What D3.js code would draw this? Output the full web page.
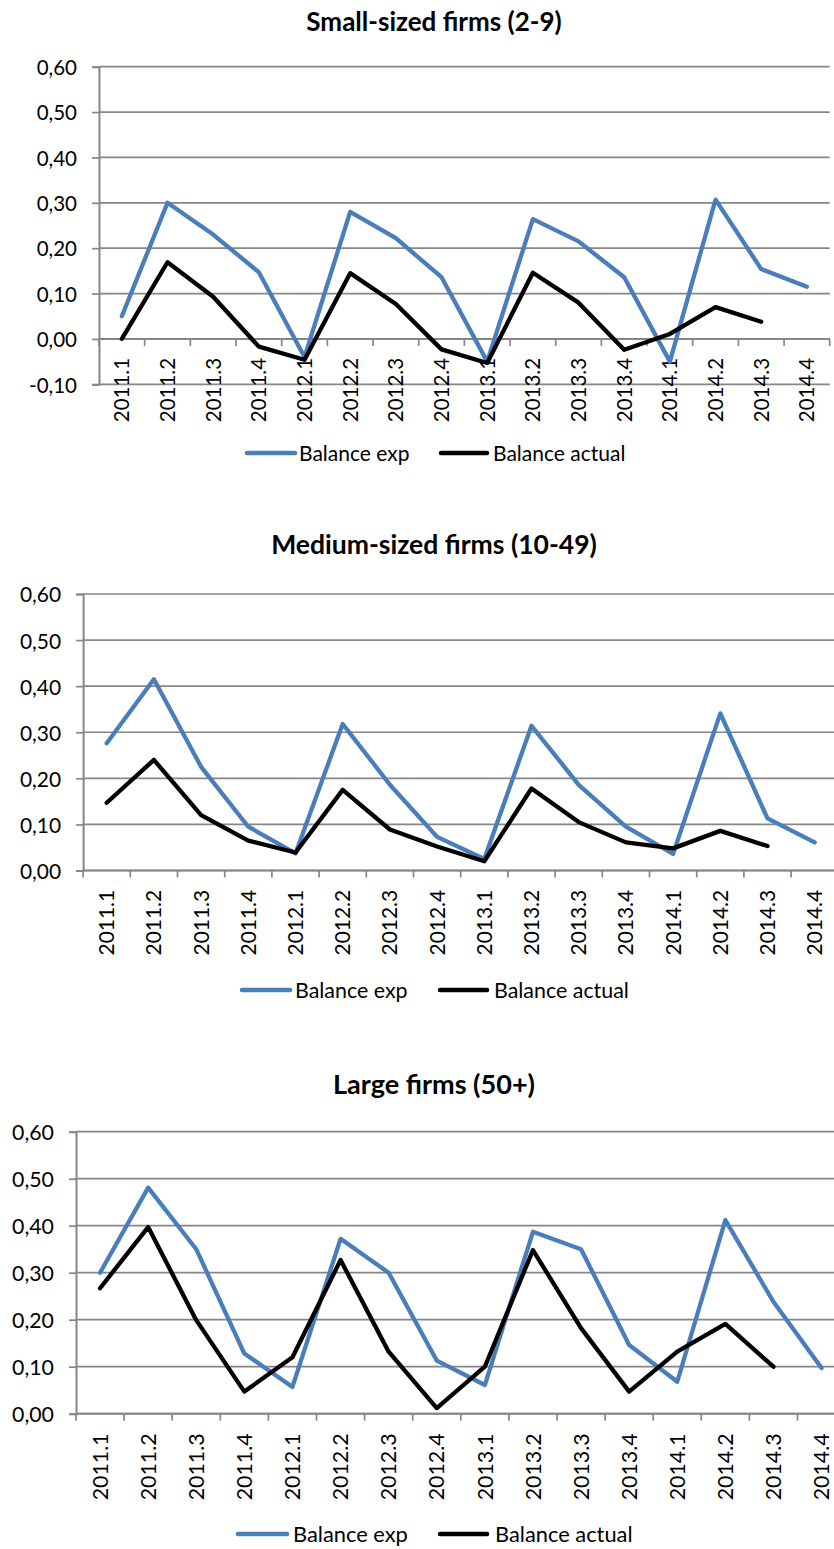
<!DOCTYPE html>
<html>
<head>
<meta charset="utf-8">
<script src="https://cdn.jsdelivr.net/npm/d3@7"></script>
<style>
  html, body { margin: 0; padding: 0; background: #fff; }
  svg { display: block; }
  text { font-family: Lato, "Open Sans", sans-serif; fill: #000; }
</style>
</head>
<body>
<svg id="page" width="834" height="1549"></svg>
<script>
// Survey quarters on the category axis
const quarters = ["2011.1","2011.2","2011.3","2011.4","2012.1","2012.2","2012.3","2012.4",
                  "2013.1","2013.2","2013.3","2013.4","2014.1","2014.2","2014.3","2014.4"];

// Small-sized firms (2-9)
const smallExp    = [0.050, 0.300, 0.230, 0.147, -0.040, 0.280, 0.222, 0.136, -0.050, 0.264, 0.215, 0.136, -0.050, 0.307, 0.154, 0.115];
const smallActual = [0.000, 0.169, 0.093, -0.017, -0.046, 0.145, 0.077, -0.023, -0.053, 0.146, 0.080, -0.024, 0.011, 0.070, 0.038, null];

// Medium-sized firms (10-49)
const mediumExp    = [0.276, 0.415, 0.225, 0.095, 0.037, 0.318, 0.186, 0.073, 0.025, 0.314, 0.186, 0.095, 0.036, 0.341, 0.113, 0.061];
const mediumActual = [0.147, 0.240, 0.120, 0.065, 0.039, 0.175, 0.089, 0.052, 0.020, 0.178, 0.105, 0.061, 0.048, 0.086, 0.053, null];

// Large firms (50+)
const largeExp    = [0.300, 0.481, 0.350, 0.128, 0.057, 0.372, 0.300, 0.113, 0.061, 0.387, 0.350, 0.146, 0.068, 0.412, 0.238, 0.097];
const largeActual = [0.267, 0.397, 0.199, 0.047, 0.120, 0.327, 0.132, 0.012, 0.100, 0.348, 0.182, 0.047, 0.132, 0.191, 0.100, null];

// Value-axis ticks
const ticksWithNegative = [-0.1, 0, 0.1, 0.2, 0.3, 0.4, 0.5, 0.6];
const ticksPositive     = [0, 0.1, 0.2, 0.3, 0.4, 0.5, 0.6];

const seriesNames = ["Balance exp", "Balance actual"];

// Styling
const COLOR_EXP = "#4a7ebb";
const COLOR_ACT = "#000000";
const GRID = "#868686";

// Per-panel layout
const panels = [
  { title: "Small-sized firms (2-9)", exp: smallExp, act: smallActual, ticks: ticksWithNegative,
    left: 99, band: 45.67, top: 66.7, bottom: 384.3, titleX: 434, titleY: 31,
    legendY: 453, legend: [247, 295, 299, 441, 487, 493], fs: 1.0 },
  { title: "Medium-sized firms (10-49)", exp: mediumExp, act: mediumActual, ticks: ticksPositive,
    left: 83.1, band: 47.2, top: 594, bottom: 870.5, titleX: 434, titleY: 554,
    legendY: 990, legend: [242, 290, 295, 440, 487, 494], fs: 1.02 },
  { title: "Large firms (50+)", exp: largeExp, act: largeActual, ticks: ticksPositive,
    left: 76, band: 48.1, top: 1131.7, bottom: 1413.7, titleX: 434, titleY: 1094,
    legendY: 1534, legend: [238, 287, 293, 440, 487, 495], fs: 1.04 }
];

const fmt = v => (v < 0 ? "-" : "") + Math.abs(v).toFixed(2).replace(".", ",");

const svg = d3.select("#page");

panels.forEach(p => {
  const g = svg.append("g");
  const right = p.left + p.band * quarters.length;

  const x = d3.scaleBand().domain(quarters).range([p.left, right]).paddingInner(0).paddingOuter(0);
  const y = d3.scaleLinear()
    .domain([d3.min(p.ticks), d3.max(p.ticks)])
    .range([p.bottom, p.top]);

  // Title
  g.append("text")
    .attr("x", p.titleX).attr("y", p.titleY)
    .attr("text-anchor", "middle")
    .style("font-weight", "bold")
    .style("font-size", (26 * p.fs) + "px")
    .text(p.title);

  // Horizontal gridlines
  g.append("g").selectAll("line").data(p.ticks).join("line")
    .attr("x1", p.left).attr("x2", right)
    .attr("y1", d => y(d)).attr("y2", d => y(d))
    .attr("stroke", GRID).attr("stroke-width", 1.7);

  // Value axis with ticks and labels
  const yAxis = d3.axisLeft(y).tickValues(p.ticks).tickFormat(fmt).tickSize(7).tickPadding(15);
  const ya = g.append("g").attr("transform", `translate(${p.left},0)`).call(yAxis);
  ya.select(".domain").attr("stroke", GRID).attr("stroke-width", 2);
  ya.selectAll(".tick line").attr("stroke", GRID).attr("stroke-width", 1.7);
  ya.selectAll(".tick text")
    .style("font-family", "Lato, sans-serif")
    .style("font-size", (20.5 * p.fs) + "px")
    .attr("fill", "#000").attr("dy", "0.38em");

  // Category axis along the zero line
  const zeroY = y(0);
  const boundaries = d3.range(quarters.length + 1).map(i => p.left + i * x.bandwidth());
  g.append("line")
    .attr("x1", p.left).attr("x2", right).attr("y1", zeroY).attr("y2", zeroY)
    .attr("stroke", GRID).attr("stroke-width", 2);
  g.append("g").selectAll("line").data(boundaries).join("line")
    .attr("x1", d => d).attr("x2", d => d)
    .attr("y1", zeroY).attr("y2", zeroY + 7)
    .attr("stroke", GRID).attr("stroke-width", 1.7);

  g.append("g").selectAll("text").data(quarters).join("text")
    .attr("transform", d => `translate(${x(d) + x.bandwidth() / 2},${zeroY + 19 * p.fs}) rotate(-90)`)
    .attr("text-anchor", "end")
    .attr("dy", "0.36em")
    .style("font-size", (20.5 * p.fs) + "px")
    .text(d => d);

  // Series lines
  const line = d3.line()
    .defined(d => d.v != null)
    .x(d => x(d.q) + x.bandwidth() / 2)
    .y(d => y(d.v));

  [[p.exp, COLOR_EXP], [p.act, COLOR_ACT]].forEach(([vals, col]) => {
    g.append("path")
      .datum(quarters.map((q, i) => ({ q, v: vals[i] })))
      .attr("d", line)
      .attr("fill", "none")
      .attr("stroke", col)
      .attr("stroke-width", 4.3)
      .attr("stroke-linejoin", "round")
      .attr("stroke-linecap", "round");
  });

  // Legend
  const L = p.legend;
  const items = [
    { name: seriesNames[0], color: COLOR_EXP, x1: L[0], x2: L[1], tx: L[2] },
    { name: seriesNames[1], color: COLOR_ACT, x1: L[3], x2: L[4], tx: L[5] }
  ];
  const lg = g.append("g");
  items.forEach(it => {
    lg.append("line")
      .attr("x1", it.x1).attr("x2", it.x2)
      .attr("y1", p.legendY).attr("y2", p.legendY)
      .attr("stroke", it.color).attr("stroke-width", 4.5).attr("stroke-linecap", "round");
    lg.append("text")
      .attr("x", it.tx).attr("y", p.legendY)
      .attr("dy", "0.36em")
      .style("font-size", (21 * p.fs) + "px")
      .text(it.name);
  });
});
</script>
</body>
</html>
